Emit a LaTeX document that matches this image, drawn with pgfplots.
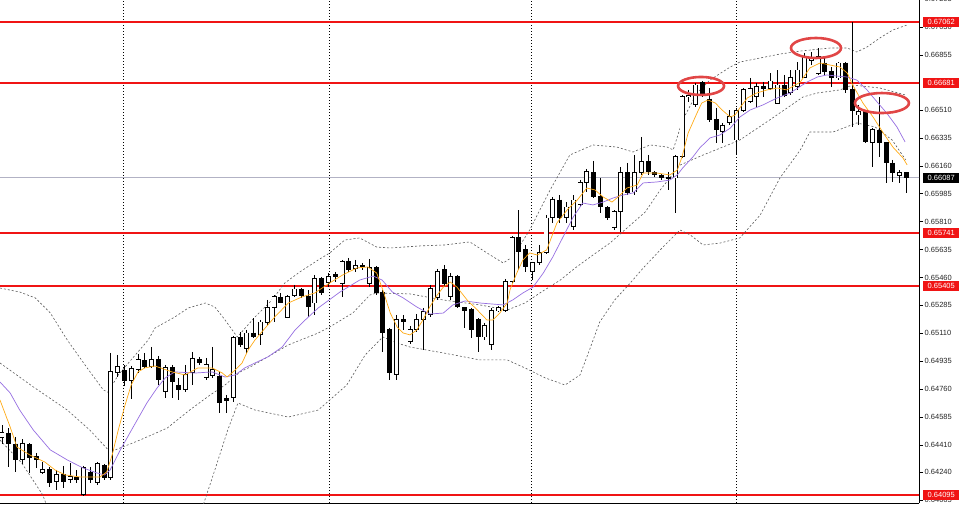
\documentclass[border=0pt]{standalone}
\usepackage{pgfplots}
\pgfplotsset{compat=1.18}
\usepackage{pgfplotstable}
\usepackage{fontspec}
\setmainfont{Liberation Sans}

\definecolor{maorange}{RGB}{255,170,20}
\definecolor{mapurple}{RGB}{150,110,225}
\definecolor{bandgray}{RGB}{90,90,90}
\definecolor{lastgray}{RGB}{178,178,196}
\definecolor{lvlred}{RGB}{240,20,20}
\definecolor{ringred}{RGB}{225,70,70}

% candles: index, open, high, low, close (price in points, 0.xxxxx)
\pgfplotstableread{
i O H L C
0 64454 64535 64416 64491
1 64485 64516 64272 64416
2 64416 64460 64241 64316
3 64316 64447 64291 64422
4 64410 64422 64235 64329
5 64335 64360 64266 64316
6 64235 64304 64229 64254
7 64254 64272 64147 64172
8 64178 64254 64128 64222
9 64222 64279 64141 64178
10 64191 64297 64172 64210
11 64203 64254 64172 64191
12 64097 64279 64091 64266
13 64235 64272 64172 64191
14 64172 64304 64160 64291
15 64279 64291 64191 64203
16 64203 64987 64191 64868
17 64862 64975 64837 64899
18 64874 64912 64780 64812
19 64812 64906 64699 64887
20 64881 64981 64862 64943
21 64937 64987 64893 64899
22 64899 65025 64893 64943
23 64943 64968 64787 64818
24 64743 64912 64705 64893
25 64893 64912 64705 64806
26 64780 64830 64692 64755
27 64755 64912 64743 64849
28 64862 64993 64787 64950
29 64943 64962 64912 64924
30 64830 64956 64818 64912
31 64843 65025 64830 64881
32 64837 64868 64610 64679
33 64699 64724 64610 64686
34 64705 65093 64679 65081
35 65081 65118 65025 65037
36 65012 65131 64987 65112
37 65112 65206 65081 65093
38 65100 65194 65037 65181
39 65175 65319 65162 65269
40 65269 65350 65181 65338
41 65332 65363 65300 65306
42 65212 65350 65206 65338
43 65350 65413 65338 65388
44 65382 65394 65332 65350
45 65344 65382 65212 65275
46 65300 65476 65225 65451
47 65451 65464 65350 65363
48 65426 65489 65401 65464
49 65476 65495 65432 65464
50 65420 65570 65338 65558
51 65558 65583 65495 65508
52 65514 65570 65495 65533
53 65533 65552 65508 65527
54 65420 65577 65401 65520
55 65520 65533 65350 65363
56 65363 65382 64993 65118
57 65131 65144 64818 64862
58 64849 65225 64818 65194
59 65194 65225 65131 65181
60 65056 65156 65043 65131
61 65131 65232 65118 65194
62 65194 65269 65006 65244
63 65225 65413 65212 65394
64 65332 65514 65319 65495
65 65508 65539 65401 65420
66 65338 65489 65319 65464
67 65464 65476 65269 65275
68 65269 65275 65144 65256
69 65262 65269 65081 65131
70 65194 65206 64993 65087
71 65087 65175 65068 65162
72 65037 65269 65006 65256
73 65250 65281 65244 65269
74 65256 65451 65244 65432
75 65432 65720 65426 65708
76 65708 65883 65508 65620
77 65633 65664 65495 65527
78 65495 65558 65445 65552
79 65552 65664 65539 65614
80 65614 65852 65608 65833
81 65839 65965 65802 65952
82 65946 65977 65802 65839
83 65839 65933 65802 65902
84 65777 65977 65758 65946
85 65915 66072 65908 66053
86 66053 66141 65996 66122
87 66116 66191 65958 65965
88 65965 66084 65865 65902
89 65896 65908 65821 65839
90 65771 65883 65758 65871
91 65871 66153 65746 66116
92 66116 66178 65977 65990
93 65996 66229 65977 66116
94 66116 66342 66103 66185
95 66185 66229 66103 66122
96 66116 66128 66090 66103
97 66097 66109 66072 66084
98 66090 66122 66009 66078
99 66084 66229 65865 66216
100 66216 66604 66210 66592
101 66592 66636 66561 66604
102 66542 66680 66529 66667
103 66680 66692 66592 66604
104 66579 66648 66436 66448
105 66448 66523 66304 66385
106 66373 66429 66304 66416
107 66429 66510 66416 66467
108 66322 66523 66229 66510
109 66510 66648 66498 66636
110 66561 66711 66554 66648
111 66592 66680 66529 66655
112 66655 66686 66592 66642
113 66648 66742 66636 66692
114 66554 66761 66548 66667
115 66667 66730 66592 66604
116 66617 66761 66604 66717
117 66655 66811 66636 66761
118 66717 66868 66711 66843
119 66818 66874 66792 66836
120 66742 66899 66730 66843
121 66805 66843 66730 66749
122 66749 66780 66655 66711
123 66711 66811 66698 66805
124 66805 66811 66617 66636
125 66636 67062 66404 66510
126 66479 66542 66416 66498
127 66498 66510 66304 66310
128 66304 66398 66153 66385
129 66379 66592 66216 66304
130 66304 66310 66053 66178
131 66178 66197 66059 66116
132 66097 66134 66053 66116
133 66116 66122 65990 66087
}\candles

\begin{document}
\begin{tikzpicture}
\begin{axis}[
    scale only axis,
    width=919pt, height=503pt,
    xmin=-0.294, xmax=134.85,
    ymin=64046, ymax=67200,
    axis x line*=bottom,
    axis y line*=right,
    axis line style={black, line width=0.8pt},
    xtick={17.79,48.09,77.79,107.94},
    xticklabels={},
    x tick style={draw=none},
    xmajorgrids,
    major x grid style={black, line width=0.6pt, dash pattern=on 1pt off 2pt},
    ytick={64065,64240,64410,64585,64760,64935,65110,65285,65460,65635,65810,65985,66160,66335,66510,66855,67030},
    yticklabels={0.64065,0.64240,0.64410,0.64585,0.64760,0.64935,0.65110,0.65285,0.65460,0.65635,0.65810,0.65985,0.66160,0.66335,0.66510,0.66855,0.67030},
    tick align=outside,
    major tick length=4pt,
    y tick style={black, line width=0.6pt},
    yticklabel style={font=\fontsize{7.5}{8}\selectfont, text=black!85, inner sep=1.5pt},
    clip mode=individual,
]

% level lines
\addplot[lvlred, line width=1.8pt, forget plot] coordinates {(-1,67062) (136,67062)};
\addplot[lvlred, line width=1.8pt, forget plot] coordinates {(-1,66681) (136,66681)};
\addplot[lvlred, line width=1.8pt, forget plot] coordinates {(-1,65741) (136,65741)};
\addplot[lvlred, line width=1.8pt, forget plot] coordinates {(-1,65405) (136,65405)};
\addplot[lvlred, line width=1.8pt, forget plot] coordinates {(-1,64095) (136,64095)};
\addplot[lastgray, line width=0.8pt, forget plot] coordinates {(-1,66087) (136,66087)};

% Bollinger bands
\pgfplotsset{band/.style={bandgray, line width=0.6pt, dash pattern=on 2pt off 2pt, forget plot}}
\addplot[band] coordinates {
(-0.3,65394) (2.6,65369) (4.9,65332) (7.1,65238) (9.6,65068) (12.2,64912) (14.9,64755)
(15.6,64740) (17.1,64849) (19.6,64974) (21.5,65068) (22.5,65143) (25.4,65212) (27.4,65269)
(29.9,65300) (31.3,65275) (32.8,65194) (34.6,65087) (37.2,65212) (39.7,65319) (41.6,65426)
(43.8,65495) (46.5,65570) (48.2,65614) (50.4,65695) (52.6,65708) (55.1,65651) (57.1,65645)
(61.5,65658) (65.1,65664) (68.8,65683) (71.8,65601) (73.7,65551) (75.1,65589) (77.6,65758)
(80.6,66009) (83.5,66228) (86.9,66291) (90.4,66278) (92.8,66247) (95.3,66291) (97.8,66278)
(98.7,66260) (100.1,66448) (102.2,66617) (104.1,66698) (107.1,66780) (108.5,66811)
(114.4,66861) (117.4,66880) (121.8,66899) (124.3,66899) (125.7,66874) (127.2,66905)
(129.1,66962) (131.0,67012) (133.1,67043)};
\addplot[band] coordinates {
(-0.3,64924) (4.6,64774) (9.6,64629) (12.9,64504) (15.9,64366) (20.3,64441) (24.3,64516)
(27.6,64629) (30.6,64723) (32.8,64786) (35.0,64868) (36.5,64899) (42.1,65037) (46.5,65112)
(48.2,65150) (51.6,65238) (54.1,65350) (55.1,65363) (60.0,65357) (64.9,65319) (70.3,65288)
(74.3,65256) (76.9,65300) (79.1,65363) (82.1,65444) (84.3,65520) (86.9,65601) (89.4,65676)
(92.4,65789) (94.6,65871) (96.8,66009) (99.7,66165) (103.1,66228) (106.0,66278)
(108.5,66322) (112.9,66448) (117.8,66592) (119.9,66617) (123.2,66636) (125.1,66667)
(129.1,66648) (132.9,66604)};
\addplot[band] coordinates {
(-0.3,64441) (2.9,64297) (6.0,64096) (7.1,63971) (17.4,63783) (27.6,63783) (29.1,63971)
(31.3,64253) (33.2,64504) (34.7,64673) (37.2,64629) (42.1,64585) (46.5,64629) (48.2,64692)
(50.7,64786) (53.4,64974) (56.0,65087) (58.1,65049) (60.0,65024) (64.9,64987) (70.3,64943)
(74.3,64943) (76.9,64893) (79.9,64830) (82.8,64786) (85.0,64849) (86.5,65018) (87.9,65181)
(90.1,65319) (92.4,65426) (94.3,65520) (97.2,65651) (99.7,65758) (101.2,65727)
(103.1,65664) (105.6,65676) (108.5,65708) (111.5,65852) (114.4,66084) (117.4,66260)
(118.8,66372) (122.2,66372) (125.7,66429) (128.4,66404) (130.9,66322) (132.9,66197)};

% wicks and bodies
\addplot[black, line width=0.8pt, -, forget plot, quiver={u=0, v={\thisrow{L}-\thisrow{H}}}]
    table[x=i, y=H] {\candles};
\addplot[black, line width=5pt, -, forget plot,
    quiver={u=0, v={-abs(\thisrow{O}-\thisrow{C})-6}}]
    table[x=i, y expr={max(\thisrow{O},\thisrow{C})+3}] {\candles};
\addplot[white, line width=3.2pt, -, forget plot,
    quiver={u=0, v={-max(\thisrow{C}-\thisrow{O}-6,0)}}]
    table[x=i, y expr={\thisrow{C}-3}] {\candles};

% moving averages
\addplot[mapurple, line width=0.7pt, forget plot] coordinates {
(-0.3,64805) (1.2,64736) (2.6,64629) (4.6,64504) (7.1,64379) (9.6,64316) (11.9,64266)
(14.0,64234) (15.1,64222) (15.9,64253) (17.4,64379) (19.3,64523) (21.3,64673) (22.8,64767)
(24.0,64830) (25.4,64868) (28.4,64861) (30.9,64868) (32.8,64836) (34.3,64849) (35.7,64893)
(37.2,64924) (39.1,64962) (41.2,65024) (43.1,65131) (44.6,65194) (46.5,65269) (49.7,65369)
(52.6,65444) (54.6,65469) (55.9,65444) (57.4,65369) (59.0,65332) (61.0,65275) (62.9,65231)
(64.9,65237) (66.3,65288) (68.1,65313) (70.3,65300) (73.7,65288) (75.1,65319) (76.6,65363)
(78.1,65400) (79.6,65488) (81.0,65589) (82.5,65714) (84.0,65839) (85.4,65927) (86.9,65915)
(88.4,65933) (89.9,65959) (91.3,65977) (92.8,65990) (94.3,66053) (96.3,66059) (98.2,66071)
(99.3,66103) (100.1,66147) (101.6,66216) (102.6,66272) (104.1,66335) (105.6,66354)
(107.1,66397) (108.5,66466) (110.0,66510) (111.9,66542) (114.0,66586) (115.9,66617)
(118.4,66686) (119.9,66717) (121.3,66730) (122.8,66723) (124.3,66717) (125.7,66698)
(127.2,66636) (128.7,66560) (130.1,66491) (131.6,66404) (132.8,66310)};
\addplot[maorange, line width=0.7pt, forget plot] coordinates {
(-0.3,64692) (1.2,64523) (2.2,64397) (4.1,64347) (6.3,64303) (7.8,64253) (9.3,64222)
(11.5,64209) (14.4,64209) (15.4,64241) (16.2,64347) (17.1,64504) (18.1,64661) (19.0,64786)
(20.0,64868) (21.0,64893) (22.5,64905) (25.0,64868) (26.9,64849) (28.8,64893) (30.9,64893)
(32.4,64861) (33.1,64836) (34.3,64880) (35.3,64924) (36.2,65006) (37.2,65068) (38.7,65143)
(40.1,65212) (42.1,65300) (44.1,65338) (46.0,65363) (48.2,65426) (50.1,65476) (52.2,65520)
(53.8,65526) (55.1,65488) (56.0,65382) (57.1,65237) (58.1,65150) (59.0,65112) (60.0,65100)
(61.0,65131) (61.9,65194) (62.9,65275) (64.0,65350) (64.9,65400) (65.9,65432) (66.9,65400)
(68.4,65319) (69.9,65256) (71.3,65194) (72.2,65194) (73.2,65237) (74.3,65300) (74.7,65382)
(75.7,65488) (76.6,65570) (77.6,65614) (78.7,65601) (80.1,65633) (81.6,65802) (83.1,65883)
(84.6,65946) (86.0,66021) (87.2,66009) (88.4,65965) (89.7,65933) (90.6,65965) (91.9,66021)
(93.4,66040) (94.3,66115) (96.3,66115) (98.2,66103) (99.3,66134) (100.0,66216) (100.9,66366)
(102.2,66491) (102.9,66554) (103.8,66573) (104.9,66554) (105.9,66510) (107.1,66466)
(107.8,66479) (108.5,66523) (109.6,66586) (111.0,66617) (112.5,66636) (114.0,66648)
(115.4,66636) (117.4,66686) (118.8,66774) (120.3,66805) (121.8,66792) (123.2,66780)
(124.3,66742) (125.1,66667) (126.6,66554) (128.1,66466) (129.6,66366) (131.0,66278)
(132.5,66209) (133.1,66166)};

% marked tops
\draw[ringred, line width=2.6pt] (axis cs:102.8,66661) ellipse [x radius=23pt, y radius=9pt];
\draw[ringred, line width=2.6pt] (axis cs:119.7,66899) ellipse [x radius=25pt, y radius=10pt];
\draw[ringred, line width=2.6pt] (axis cs:129.4,66554) ellipse [x radius=27pt, y radius=10pt];

% price labels on the scale
\tikzset{lbl/.style={anchor=west, xshift=4pt, inner sep=0pt, minimum width=36pt,
    minimum height=10pt, text=white, font=\fontsize{7.5}{8}\selectfont}}
\node[anchor=west, xshift=5.5pt, inner sep=0pt, text=black!85, font=\fontsize{7.5}{8}\selectfont]
    at (axis cs:134.85,67205) {0.67205};
\node[lbl, fill=lvlred] at (axis cs:134.85,67062) {0.67062};
\node[lbl, fill=lvlred] at (axis cs:134.85,66681) {0.66681};
\node[lbl, fill=black] at (axis cs:134.85,66087) {0.66087};
\node[lbl, fill=lvlred] at (axis cs:134.85,65741) {0.65741};
\node[lbl, fill=lvlred] at (axis cs:134.85,65405) {0.65405};
\node[lbl, fill=lvlred] at (axis cs:134.85,64095) {0.64095};
\end{axis}
\pgfresetboundingbox
\path (0,-4pt) rectangle (960pt,503pt);
\end{tikzpicture}
\end{document}
